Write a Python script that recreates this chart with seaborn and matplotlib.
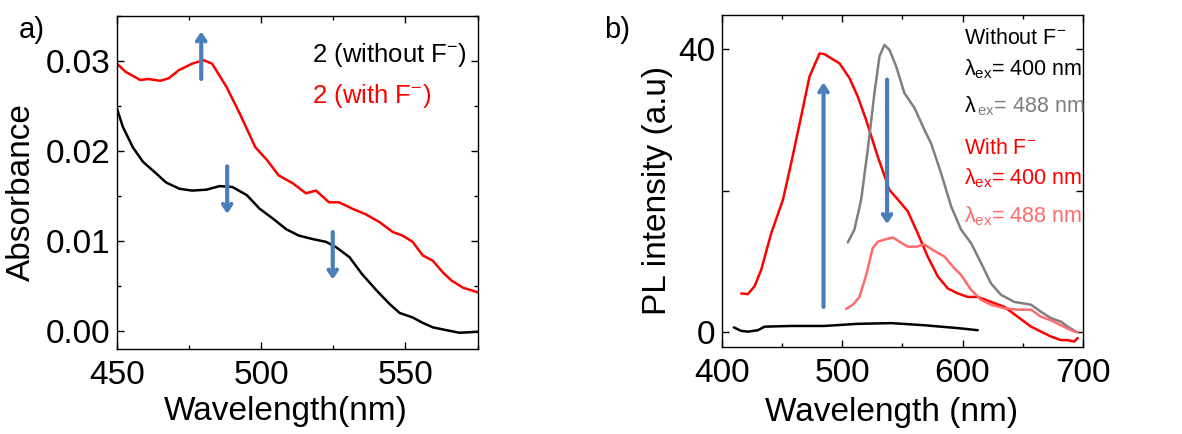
import numpy as np
import matplotlib
matplotlib.use('Agg')
import matplotlib.pyplot as plt
import seaborn as sns
from matplotlib.ticker import MultipleLocator

# ---------- data ----------
# a) absorbance
abs_wl_with = [450, 453, 458, 461, 465, 468, 471.5, 476, 480, 483, 488, 492.5, 498, 502, 506,
               511, 515.5, 519, 523.5, 527, 531.5, 536, 541, 545.6, 549, 552.5, 556, 559.5,
               563, 566, 570, 575]
abs_with = [0.0297, 0.0288, 0.0279, 0.0280, 0.0278, 0.0281, 0.0290, 0.0297, 0.0301, 0.0297,
            0.0271, 0.0242, 0.0204, 0.0190, 0.0173, 0.0164, 0.0153, 0.0156, 0.0143, 0.0143,
            0.0136, 0.0130, 0.0121, 0.0110, 0.0106, 0.0099, 0.0084, 0.0078, 0.0065, 0.0056,
            0.0048, 0.0043]
abs_wl_without = [450, 452, 455.5, 459, 463.6, 467, 471.7, 476, 481, 485.6, 490, 495, 499.4,
                  504, 508.7, 513, 518, 522.5, 526, 530.6, 535, 540, 544.5, 548, 552.5, 556,
                  559.5, 564, 568.7, 575]
abs_without = [0.0247, 0.0227, 0.0204, 0.0188, 0.0175, 0.0165, 0.0158, 0.0156, 0.0157, 0.0161,
               0.0160, 0.0151, 0.0136, 0.0125, 0.0113, 0.0106, 0.0102, 0.0099, 0.0093, 0.0082,
               0.0063, 0.0045, 0.0030, 0.0020, 0.0015, 0.0009, 0.0004, 0.0001, -0.0002, -0.0001]

# b) PL spectra
pl_wl_with400 = [415.8, 421.3, 426.9, 432.4, 440.8, 450.5, 457.4, 465.7, 472.6, 481, 485, 490.7,
                 497.6, 506, 512.8, 519.8, 529.5, 539.2, 547.5, 554.4, 562.7, 571, 579.4, 587.7,
                 596, 604.3, 612.6, 623.7, 634.8, 645.9, 657, 665.3, 673.6, 682, 687.5, 693, 695.8]
pl_with400 = [5.5, 5.4, 6.5, 8.8, 14.0, 18.7, 23.9, 30.5, 36.1, 39.4, 39.3, 38.7, 38.0, 35.9,
              33.3, 30.0, 24.8, 20.1, 18.5, 17.1, 14.0, 10.7, 7.9, 6.2, 5.5, 5.0, 5.0, 4.3, 3.6,
              2.2, 0.8, 0.1, -0.6, -1.1, -1.1, -1.3, -0.8]
pl_wl_without488 = [504.5, 510, 515.6, 521.1, 526.7, 530.9, 535, 539.2, 544.7, 551.6, 560, 568.3,
                    573.8, 582.1, 590.5, 598.8, 607.1, 615.4, 623.7, 632, 643.1, 657, 665.3,
                    673.6, 682, 687.5, 694.4]
pl_without488 = [12.7, 14.5, 18.7, 25.8, 33.8, 39.0, 40.6, 39.9, 37.6, 33.8, 31.7, 28.6, 26.7,
                 22.5, 17.8, 14.5, 12.6, 9.8, 6.9, 5.3, 4.3, 3.9, 2.9, 2.0, 1.5, 0.8, 0.1]
pl_wl_with488 = [503.1, 508.7, 514.2, 519.8, 525.3, 529.5, 535, 542, 547.5, 554.4, 561.4, 568.3,
                 576.6, 585, 591.8, 598.8, 607.1, 615.4, 623.7, 634.8, 645.9, 657, 665.3, 673.6,
                 682, 690.3, 695.8]
pl_with488 = [3.3, 3.9, 5.0, 8.1, 11.9, 12.8, 13.1, 13.4, 12.8, 12.1, 12.1, 12.4, 11.5, 10.7,
              9.3, 8.1, 6.0, 4.6, 3.9, 3.4, 3.2, 3.2, 2.2, 1.7, 1.0, 0.3, 0.0]
pl_wl_without400 = [409.7, 415.8, 421.3, 429.7, 435.2, 457.4, 485, 512.8, 540.6, 568.3, 596, 612.6]
pl_without400 = [0.7, 0.2, 0.1, 0.3, 0.8, 0.9, 0.9, 1.2, 1.3, 1.0, 0.6, 0.3]

# arrows: (x, y_start, y_end)
abs_arrows = [(479.2, 0.0277, 0.0336), (488.2, 0.0186, 0.0127), (524.8, 0.0113, 0.0054)]
pl_arrows = [(484.3, 3.2, 35.7), (537.2, 36.1, 14.9)]

# ---------- style ----------
sns.set_style('ticks')
plt.rcParams['font.family'] = ['Liberation Sans', 'DejaVu Sans']
plt.rcParams['mathtext.fontset'] = 'custom'
plt.rcParams['mathtext.rm'] = 'Liberation Sans'
plt.rcParams['mathtext.it'] = 'Liberation Sans'
plt.rcParams['mathtext.default'] = 'regular'
for key in ['text.color', 'axes.labelcolor', 'xtick.color', 'ytick.color']:
    plt.rcParams[key] = 'black'

BLUE = '#4a7ebb'
PINK = '#ff6b6b'
GRAY = '#7f7f7f'

fig = plt.figure(figsize=(11.82, 4.34), dpi=100)
ax1 = fig.add_axes([0.099, 0.196, 0.305, 0.767])
ax2 = fig.add_axes([0.611, 0.200, 0.305, 0.765])

def style_axis(ax):
    for s in ax.spines.values():
        s.set_linewidth(1.0)
        s.set_color('black')
    ax.tick_params(which='both', direction='in', top=True, right=True, labelsize=24, width=1)
    ax.tick_params(which='major', length=5)
    ax.tick_params(which='minor', length=3)
    ax.tick_params(axis='x', pad=8)
    ax.tick_params(axis='y', pad=5)

# ---------- a) ----------
sns.lineplot(x=abs_wl_with, y=abs_with, color='red', lw=1.8, sort=False, ax=ax1)
sns.lineplot(x=abs_wl_without, y=abs_without, color='black', lw=1.8, sort=False, ax=ax1)
for x, y0, y1 in abs_arrows:
    ax1.annotate('', xy=(x, y1), xytext=(x, y0),
                 arrowprops=dict(arrowstyle='->,head_length=0.45,head_width=0.3', color=BLUE, lw=3))
ax1.set_xlim(450, 575)
ax1.set_ylim(-0.002, 0.035)
ax1.set_xticks([450, 500, 550])
ax1.set_yticks([0.00, 0.01, 0.02, 0.03])
ax1.set_yticklabels(['0.00', '0.01', '0.02', '0.03'])
ax1.xaxis.set_minor_locator(MultipleLocator(25))
ax1.yaxis.set_minor_locator(MultipleLocator(0.005))
style_axis(ax1)
ax1.set_xlabel('Wavelength(nm)', fontsize=24)
ax1.set_ylabel('Absorbance', fontsize=24)
ax1.xaxis.set_label_coords(0.468, -0.14)
ax1.yaxis.set_label_coords(-0.222, 0.47)
ax1.text(0.54, 0.862, '2 (without F$^{-}$)', transform=ax1.transAxes, fontsize=18.5,
         color='black', ha='left', va='baseline')
ax1.text(0.54, 0.739, '2 (with F$^{-}$)', transform=ax1.transAxes, fontsize=18.5,
         color='red', ha='left', va='baseline')

# ---------- b) ----------
sns.lineplot(x=pl_wl_with400, y=pl_with400, color='red', lw=1.8, sort=False, ax=ax2)
sns.lineplot(x=pl_wl_without488, y=pl_without488, color=GRAY, lw=1.8, sort=False, ax=ax2)
sns.lineplot(x=pl_wl_with488, y=pl_with488, color=PINK, lw=1.8, sort=False, ax=ax2)
sns.lineplot(x=pl_wl_without400, y=pl_without400, color='black', lw=1.8, sort=False, ax=ax2)
for x, y0, y1 in pl_arrows:
    ax2.annotate('', xy=(x, y1), xytext=(x, y0),
                 arrowprops=dict(arrowstyle='->,head_length=0.45,head_width=0.3', color=BLUE, lw=3))
ax2.set_xlim(400, 700)
ax2.set_ylim(-2.1, 44.8)
ax2.set_xticks([400, 500, 600, 700])
ax2.set_yticks([0, 20, 40])
ax2.set_yticklabels(['0', '', '40'])
ax2.xaxis.set_minor_locator(MultipleLocator(50))
style_axis(ax2)
ax2.set_xlabel('Wavelength (nm)', fontsize=24)
ax2.set_ylabel('PL intensity (a.u)', fontsize=24)
ax2.xaxis.set_label_coords(0.47, -0.15)
ax2.yaxis.set_label_coords(-0.136, 0.473)

lx = 0.67
fs = 15.5
legend_b = [
    ('Without F$^{-}$', 'black', 0.913),
    (r'$\lambda_{ex}$= 400 nm', 'black', 0.819),
    ('With F$^{-}$', 'red', 0.581),
    (r'$\lambda_{ex}$= 400 nm', 'red', 0.491),
    (r'$\lambda_{ex}$= 488 nm', PINK, 0.377),
]
for txt, col, yy in legend_b:
    ax2.text(lx, yy, txt, transform=ax2.transAxes, fontsize=fs, color=col,
             ha='left', va='baseline')
# grey line: black lambda, grey rest
lam = ax2.text(lx, 0.708, r'$\lambda$', transform=ax2.transAxes, fontsize=fs,
               color='black', ha='left', va='baseline')
fig.canvas.draw()
lam_w = lam.get_window_extent().width * 72 / fig.dpi
ax2.annotate(r'$_{ex}$= 488 nm', xy=(lx, 0.708), xycoords='axes fraction',
             xytext=(lam_w + 0.3, 0), textcoords='offset points', fontsize=fs,
             color=GRAY, ha='left', va='baseline')

fig.text(0.027, 0.93, 'a)', fontsize=21, ha='center', va='center')
fig.text(0.522, 0.93, 'b)', fontsize=21, ha='center', va='center')

plt.savefig('out.png', dpi=100)
